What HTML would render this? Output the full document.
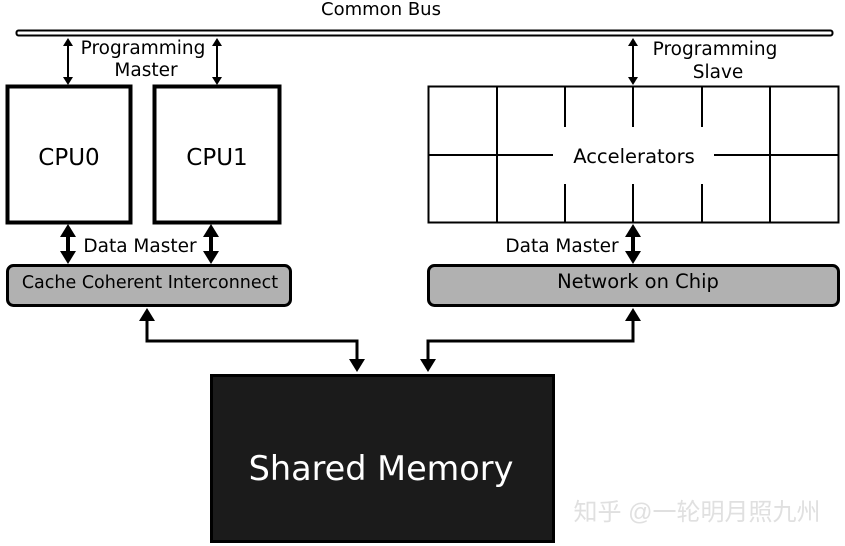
<!DOCTYPE html>
<html><head><meta charset="utf-8"><style>
html,body{margin:0;padding:0;background:#fff;}
svg{display:block;}
text{font-family:"DejaVu Sans","Liberation Sans",sans-serif;fill:#000;}
</style></head><body>
<svg width="845" height="546" viewBox="0 0 845 546" xmlns="http://www.w3.org/2000/svg">
<text x="381" y="15" font-size="18" text-anchor="middle">Common Bus</text>
<rect x="16.5" y="30.5" width="816" height="5" rx="2" fill="#fff" stroke="#000" stroke-width="2"/>
<line x1="68" y1="45" x2="68" y2="78" stroke="#000" stroke-width="2"/>
<line x1="217" y1="45" x2="217" y2="78" stroke="#000" stroke-width="2"/>
<line x1="633" y1="45" x2="633" y2="78" stroke="#000" stroke-width="2"/>
<g fill="#000">
<path d="M63,46 L68,38 L73,46 z"/><path d="M63,77 L68,85 L73,77 z"/>
<path d="M212,46 L217,38 L222,46 z"/><path d="M212,77 L217,85 L222,77 z"/>
<path d="M628,46 L633,38 L638,46 z"/><path d="M628,77 L633,85 L638,77 z"/>
</g>
<text x="143" y="54" font-size="18.5" text-anchor="middle">Programming</text>
<text x="146" y="76" font-size="18.5" text-anchor="middle">Master</text>
<text x="715" y="55" font-size="18.5" text-anchor="middle">Programming</text>
<text x="718" y="78" font-size="18.5" text-anchor="middle">Slave</text>
<rect x="7.5" y="86.5" width="123" height="136" fill="#fff" stroke="#000" stroke-width="4"/>
<rect x="154.5" y="86.5" width="125" height="136" fill="#fff" stroke="#000" stroke-width="4"/>
<text x="69" y="165" font-size="23" text-anchor="middle">CPU0</text>
<text x="217" y="165" font-size="23" text-anchor="middle">CPU1</text>
<rect x="428.5" y="86.5" width="410" height="136" fill="#fff" stroke="#000" stroke-width="2"/>
<g stroke="#000" stroke-width="2">
<line x1="497" y1="86" x2="497" y2="223"/><line x1="770" y1="86" x2="770" y2="223"/>
<line x1="565" y1="86" x2="565" y2="127"/><line x1="633" y1="86" x2="633" y2="127"/><line x1="702" y1="86" x2="702" y2="127"/>
<line x1="565" y1="184" x2="565" y2="223"/><line x1="633" y1="184" x2="633" y2="223"/><line x1="702" y1="184" x2="702" y2="223"/>
<line x1="428" y1="155" x2="553" y2="155"/><line x1="714" y1="155" x2="839" y2="155"/>
</g>
<text x="634" y="163" font-size="19.5" text-anchor="middle">Accelerators</text>
<g stroke="#000" stroke-width="4">
<line x1="68" y1="234" x2="68" y2="254"/><line x1="211" y1="234" x2="211" y2="254"/><line x1="633" y1="234" x2="633" y2="254"/>
</g>
<g fill="#000">
<path d="M60,237 L68,224 L76,237 z"/><path d="M60,251 L68,264 L76,251 z"/>
<path d="M203,237 L211,224 L219,237 z"/><path d="M203,251 L211,264 L219,251 z"/>
<path d="M625,237 L633,224 L641,237 z"/><path d="M625,251 L633,264 L641,251 z"/>
</g>
<text x="140" y="252" font-size="18.5" text-anchor="middle">Data Master</text>
<text x="562" y="252" font-size="18.5" text-anchor="middle">Data Master</text>
<rect x="7.5" y="265.5" width="283" height="40" rx="6" fill="#b1b1b1" stroke="#000" stroke-width="3"/>
<text x="150" y="288" font-size="17.5" text-anchor="middle">Cache Coherent Interconnect</text>
<rect x="428.5" y="265.5" width="410" height="40" rx="6" fill="#b1b1b1" stroke="#000" stroke-width="3"/>
<text x="638" y="288" font-size="19.5" text-anchor="middle">Network on Chip</text>
<polyline points="147,318 147,341 357,341 357,362" fill="none" stroke="#000" stroke-width="3"/>
<polyline points="633,318 633,341 428,341 428,362" fill="none" stroke="#000" stroke-width="3"/>
<g fill="#000">
<path d="M139,321 L147,308 L155,321 z"/><path d="M349,359 L357,372 L365,359 z"/>
<path d="M625,321 L633,308 L641,321 z"/><path d="M420,359 L428,372 L436,359 z"/>
</g>
<rect x="211.5" y="375.5" width="342" height="166" fill="#1b1b1b" stroke="#000" stroke-width="3"/>
<text x="381" y="480" font-size="33.5" text-anchor="middle" style="fill:#fff">Shared Memory</text>
<text x="697" y="520" font-size="24" text-anchor="middle" style="fill:#e0e0e0;font-family:'Liberation Sans','Noto Sans CJK SC',sans-serif">知乎 @一轮明月照九州</text>
</svg>
</body></html>
